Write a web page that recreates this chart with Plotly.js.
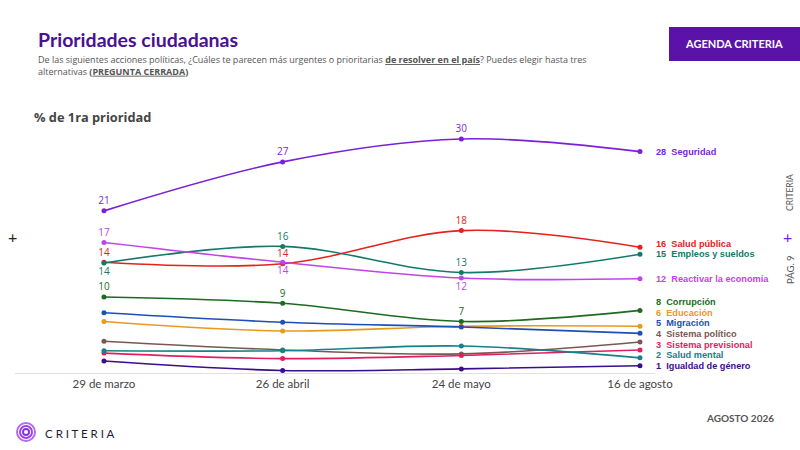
<!DOCTYPE html>
<html>
<head>
<meta charset="utf-8">
<script src="https://cdn.plot.ly/plotly-3.0.1.min.js"></script>
<style>
  body { margin: 0; background: #fff; }
  #chart { width: 800px; height: 450px; }
</style>
</head>
<body>
<div id="chart"></div>
<script>
/* ---------------------------------------------------------------- */
/* DATA                                                             */
/* ---------------------------------------------------------------- */
var fechas = ['29 de marzo', '26 de abril', '24 de mayo', '16 de agosto'];

var categorias = ['Seguridad', 'Salud pública', 'Empleos y sueldos', 'Reactivar la economía',
  'Corrupción', 'Educación', 'Migración', 'Sistema político', 'Sistema previsional',
  'Salud mental', 'Igualdad de género'];

var seguridad   = [20.9, 27.1, 30.0, 28.4];
var saludPublica = [14.4, 14.2, 18.4, 16.3];
var empleos     = [14.3, 16.4, 13.1, 15.4];
var reactivar   = [16.9, 14.4, 12.4, 12.3];
var corrupcion  = [10.0, 9.2, 6.9, 8.3];
var educacion   = [6.9, 5.7, 6.3, 6.3];
var migracion   = [8.0, 6.8, 6.2, 5.4];
var sistPolitico = [4.4, 3.3, 2.8, 4.3];
var previsional = [2.9, 2.2, 2.6, 3.3];
var saludMental = [3.2, 3.2, 3.8, 2.3];
var igualdad    = [1.9, 0.7, 0.9, 1.3];

// printed labels on the points ('' = none)
var segLbl  = ['21', '27', '30', ''];
var spLbl   = ['14', '14', '18', ''];
var empLbl  = ['14', '16', '13', ''];
var reaLbl  = ['17', '14', '12', ''];
var corLbl  = ['10', '9', '7', ''];

// value printed at the end of each line
var finales = ['28', '16', '15', '12', '8', '6', '5', '4', '3', '2', '1'];

/* ---------------------------------------------------------------- */
/* LAYOUT HELPERS                                                   */
/* ---------------------------------------------------------------- */
var ML = 15, MR = 145, MT = 120, MB = 77, W = 800, H = 450;
var PW = W - ML - MR, PH = H - MT - MB;
var Y0 = 0.38, Y1 = 32.4;
function px(x) { return (x - ML) / PW; }
function py(y) { return (H - MB - y) / PH; }
function valPx(v) { return H - MB - (v - Y0) / (Y1 - Y0) * PH; }

var series = [
  {y: seguridad,   c: '#7b1fd9', lbl: segLbl, pos: ['top center', 'top center', 'top center', 'top center']},
  {y: saludPublica, c: '#e2231a', lbl: spLbl, pos: ['top center', 'top center', 'top center', 'top center']},
  {y: empleos,     c: '#147a68', lbl: empLbl, pos: ['bottom center', 'top center', 'top center', 'top center']},
  {y: reactivar,   c: '#c044ea', lbl: reaLbl, pos: ['top center', 'bottom center', 'bottom center', 'top center']},
  {y: corrupcion,  c: '#1d6b1f', lbl: corLbl, pos: ['top center', 'top center', 'top center', 'top center']},
  {y: educacion,   c: '#e89a1e'},
  {y: migracion,   c: '#1d4fb8'},
  {y: sistPolitico, c: '#7a5850'},
  {y: previsional, c: '#e31e5f'},
  {y: saludMental, c: '#16808c'},
  {y: igualdad,    c: '#3b0d8c'}
];

var traces = series.map(function (s, i) {
  return {
    x: [0, 1, 2, 3],
    y: s.y,
    name: categorias[i],
    type: 'scatter',
    mode: s.lbl ? 'lines+markers+text' : 'lines+markers',
    text: s.lbl || null,
    textposition: s.pos || null,
    textfont: {family: 'Open Sans', size: 10, color: s.c},
    line: {color: s.c, width: 1.6, shape: 'spline', smoothing: 1},
    marker: {color: s.c, size: 5},
    cliponaxis: false,
    hoverinfo: 'skip'
  };
});

// end labels, spread so they do not overlap
var order = series.map(function (s, i) { return i; })
  .sort(function (a, b) { return series[a].y[3] - series[b].y[3]; });
var labelPx = {};
var prev = null;
order.forEach(function (i) {
  var p = valPx(series[i].y[3]);
  if (prev !== null && p > prev - 10.6) p = prev - 10.6;
  labelPx[i] = p;
  prev = p;
});

var annotations = series.map(function (s, i) {
  return {
    x: 3, y: s.y[3], xref: 'x', yref: 'y',
    xanchor: 'left', yanchor: 'middle', xshift: 15,
    yshift: valPx(s.y[3]) - labelPx[i],
    showarrow: false, borderpad: 0,
    text: '<b>' + finales[i] + '  ' + categorias[i] + '</b>',
    font: {family: 'Liberation Sans', size: 9.2, color: s.c}
  };
});

function note(x, y, text, opts) {
  var a = {xref: 'paper', yref: 'paper', x: px(x), y: py(y), text: text, showarrow: false,
    xanchor: 'left', yanchor: 'middle', font: {family: 'Lato', size: 10, color: '#444'}};
  for (var k in opts) a[k] = opts[k];
  return a;
}

annotations.push(
  note(36, 39, '<b>Prioridades ciudadanas</b>', {font: {family: 'Lato', size: 19.5, color: '#4a1191'}}),
  note(36, 65.5, 'De las siguientes acciones políticas, ¿Cuáles te parecen más urgentes o prioritarias ' +
    '<b><span style="text-decoration:underline">de resolver en el país</span></b>? Puedes elegir hasta tres' +
    '<br>alternativas <b>(<span style="text-decoration:underline">PREGUNTA CERRADA</span>)</b>',
    {align: 'left', font: {family: 'Open Sans', size: 9, color: '#555'}}),
  note(32, 117, '<b>% de 1ra prioridad</b>', {font: {family: 'Open Sans', size: 12.8, color: '#444'}}),
  note(734, 44, '<b>AGENDA CRITERIA</b>', {xanchor: 'center', font: {family: 'Lato', size: 11, color: '#ffffff'}}),
  note(776, 418, '<b>AGOSTO 2026</b>', {xanchor: 'right', font: {family: 'Lato', size: 10, color: '#555'}}),
  note(43, 433, 'C R I T E R I A', {font: {family: 'Lato', size: 11.5, color: '#1e1b3a'}}),
  note(790, 193, 'CRITERIA', {xanchor: 'center', textangle: -90, font: {family: 'Lato', size: 8.5, color: '#555'}}),
  note(790, 270, 'PÁG. 9', {xanchor: 'center', textangle: -90, font: {family: 'Lato', size: 9.5, color: '#555'}}),
  note(787, 236, '+', {xanchor: 'center', font: {family: 'Lato', size: 16, color: '#7b1fd9'}}),
  note(12, 236, '+', {xanchor: 'center', font: {family: 'Lato', size: 16, color: '#222'}})
);

var shapes = [
  {type: 'rect', xref: 'paper', yref: 'paper', x0: px(669), x1: px(800), y0: py(61), y1: py(27),
    fillcolor: '#5a12a8', line: {width: 0}, layer: 'below'}
];
// logo rings
[[9, '#b36bf0'], [6, '#9a45e6'], [3, '#8a30dc']].forEach(function (r) {
  shapes.push({type: 'circle', xref: 'paper', yref: 'paper',
    x0: px(26 - r[0]), x1: px(26 + r[0]), y0: py(432 + r[0]), y1: py(432 - r[0]),
    line: {color: r[1], width: 2}});
});

var layout = {
  width: W, height: H,
  margin: {l: ML, r: MR, t: MT, b: MB},
  paper_bgcolor: '#ffffff', plot_bgcolor: '#ffffff',
  showlegend: false,
  font: {family: 'Lato', color: '#444'},
  xaxis: {
    range: [-0.498, 3.084],
    tickvals: [0, 1, 2, 3], ticktext: fechas,
    showgrid: false, zeroline: false,
    showline: true, linecolor: '#e0e0e0', linewidth: 1,
    ticks: '', tickfont: {family: 'Lato', size: 11.5, color: '#444'}
  },
  yaxis: {
    range: [Y0, Y1],
    showgrid: false, zeroline: false, showticklabels: false, showline: false
  },
  annotations: annotations,
  shapes: shapes
};

Plotly.newPlot('chart', traces, layout, {displayModeBar: false, staticPlot: true});
</script>
</body>
</html>
